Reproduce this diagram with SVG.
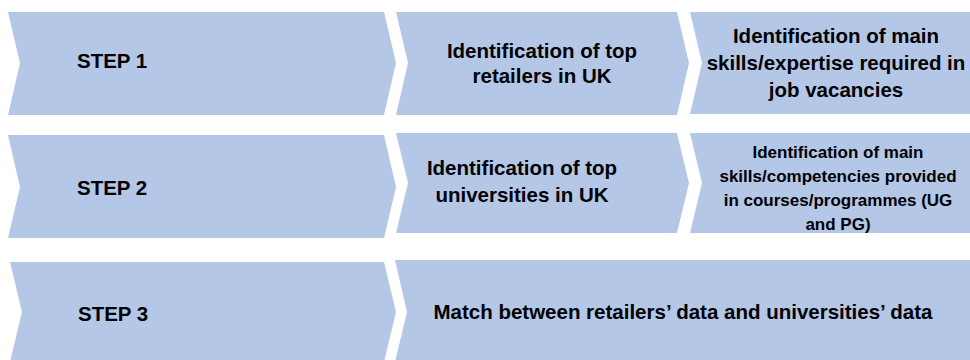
<svg xmlns="http://www.w3.org/2000/svg" width="970" height="360" viewBox="0 0 970 360">
<style>
.sh{fill:#B4C7E7;stroke:none}
.t{font-family:"Liberation Sans",Arial,sans-serif;font-weight:bold;font-size:20.5px;fill:#000}
.c{text-anchor:middle}
.s{font-size:17px}
</style>
<rect width="970" height="360" fill="#fff"/>
<g id="step1">
<polygon class="sh" points="8,12 384,12 396,63 384,115 8,115 20,63"/>
<text class="t" x="77" y="68">STEP 1</text>
</g>
<g id="retailers">
<polygon class="sh" points="396,12 677,12 689,63 677,115 396,115 408,63"/>
<text class="t c" x="542" y="58">Identification of top</text>
<text class="t c" x="542" y="83">retailers in UK</text>
</g>
<g id="skills-jobs">
<polygon class="sh" points="690,12 970,12 970,114 690,114 702,63"/>
<text class="t c" x="836" y="43">Identification of main</text>
<text class="t c" x="836" y="70">skills/expertise required in</text>
<text class="t c" x="836" y="97">job vacancies</text>
</g>
<g id="step2">
<polygon class="sh" points="8,135 384,135 396,187 384,238 8,238 20,187"/>
<text class="t" x="77" y="195">STEP 2</text>
</g>
<g id="universities">
<polygon class="sh" points="396,133 677,133 689,183 677,233 396,233 408,183"/>
<text class="t c" x="522" y="175">Identification of top</text>
<text class="t c" x="522" y="202">universities in UK</text>
</g>
<g id="skills-courses">
<polygon class="sh" points="690,133 970,133 970,233 690,233 702,183"/>
<text class="t c s" x="838" y="158">Identification of main</text>
<text class="t c s" x="838" y="182">skills/competencies provided</text>
<text class="t c s" x="838" y="206">in courses/programmes (UG</text>
<text class="t c s" x="838" y="230">and PG)</text>
</g>
<g id="step3">
<polygon class="sh" points="10,262 384,262 396,312 384,362 10,362 22,312"/>
<text class="t" x="78" y="321">STEP 3</text>
</g>
<g id="match">
<polygon class="sh" points="395,260 970,260 970,362 395,362 407,312"/>
<text class="t c" x="683" y="319">Match between retailers’ data and universities’ data</text>
</g>
</svg>
